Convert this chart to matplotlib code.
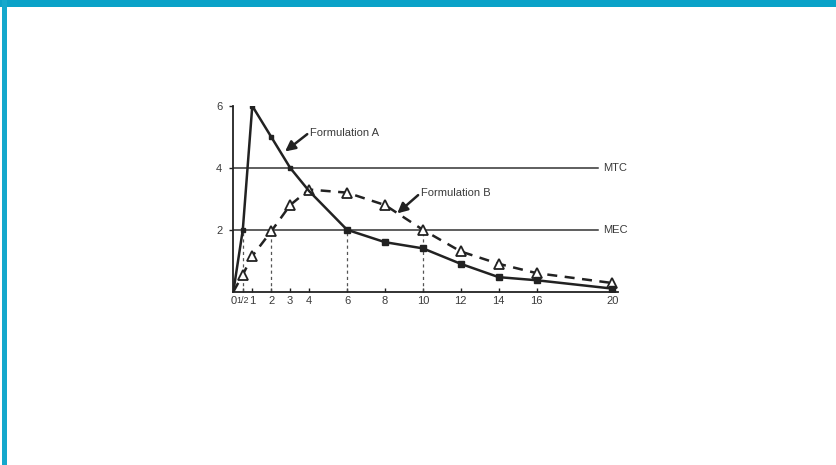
import matplotlib.pyplot as plt
from matplotlib.patches import Rectangle

plt.rcParams['font.family'] = ['Liberation Sans', 'DejaVu Sans']

# Formulation A (solid line)
time_a = [0, 0.5, 1, 2, 3, 4, 6, 8, 10, 12, 14, 16, 20]
conc_a = [0, 2.0, 6.0, 5.0, 4.0, 3.25, 2.0, 1.6, 1.4, 0.9, 0.47, 0.37, 0.1]

# Formulation B (dashed line, open triangles)
time_b = [0, 0.5, 1, 2, 3, 4, 6, 8, 10, 12, 14, 16, 20]
conc_b = [0, 0.55, 1.15, 1.95, 2.8, 3.3, 3.2, 2.8, 2.0, 1.3, 0.9, 0.6, 0.28]

mtc = 4
mec = 2
xtick_pos = [0, 0.5, 1, 2, 3, 4, 6, 8, 10, 12, 14, 16, 20]
xtick_labels = ["0", "1/2", "1", "2", "3", "4", "6", "8", "10", "12", "14", "16", "20"]
ytick_pos = [2, 4, 6]
drop_lines = [(0.5, 2.0), (2, 1.95), (6, 2.0), (10, 2.0)]

ink = "#222222"
txt = "#3a3a3a"

fig = plt.figure(figsize=(8.36, 4.65), dpi=100)
fig.patch.set_facecolor("white")
# blue frame along top and left
fig.patches.append(Rectangle((0, 1 - 7 / 465), 1, 7 / 465, transform=fig.transFigure,
                             facecolor="#0aa2c8", edgecolor="none"))
fig.patches.append(Rectangle((2 / 836, 0), 5 / 836, 1, transform=fig.transFigure,
                             facecolor="#14a8cc", edgecolor="none"))

ax = fig.add_axes([0.2791, 0.3727, 0.4602, 0.3994])
ax.set_xlim(0, 20.3)
ax.set_ylim(0, 6)

ax.axhline(mtc, xmin=0, xmax=19.25 / 20.3, color="#333333", lw=1.1)
ax.axhline(mec, xmin=0, xmax=19.25 / 20.3, color="#333333", lw=1.1)
ax.text(19.5, mtc, "MTC", fontsize=8, color=txt, va="center", ha="left")
ax.text(19.5, mec, "MEC", fontsize=8, color=txt, va="center", ha="left")

for x, y in drop_lines:
    ax.plot([x, x], [0, y], color="#555555", lw=0.9, ls=(0, (2.5, 2.5)))

ax.plot(time_b, conc_b, color=ink, lw=1.8, ls=(0, (4, 3)), zorder=3)
ax.plot(time_b[1:], conc_b[1:], ls="none", marker="^", ms=6.5, mfc="white",
        mec=ink, mew=1.3, zorder=4)

ax.plot(time_a, conc_a, color=ink, lw=1.8, zorder=5)
ax.plot(time_a[1:5], conc_a[1:5], ls="none", marker="s", ms=2.5, color=ink, zorder=6)
ax.plot(time_a[6:], conc_a[6:], ls="none", marker="s", ms=5, color=ink, zorder=6)

arrow = dict(arrowstyle="-|>,head_length=0.6,head_width=0.3", color=ink, lw=1.8,
             shrinkA=0, shrinkB=0)
ax.annotate("", xy=(2.73, 4.53), xytext=(3.9, 5.09), arrowprops=arrow)
ax.text(4.05, 5.13, "Formulation A", fontsize=8, color=txt, va="center", ha="left")
ax.annotate("", xy=(8.65, 2.53), xytext=(9.75, 3.12), arrowprops=arrow)
ax.text(9.9, 3.18, "Formulation B", fontsize=8, color=txt, va="center", ha="left")

for side in ["top", "right"]:
    ax.spines[side].set_visible(False)
for side in ["left", "bottom"]:
    ax.spines[side].set_color(ink)
    ax.spines[side].set_linewidth(1.3)

ax.set_xticks(xtick_pos)
ax.set_xticklabels(xtick_labels)
ax.set_yticks(ytick_pos)
ax.tick_params(axis="x", direction="in", length=3, width=1, colors=ink,
               labelcolor=txt, labelsize=8, pad=3)
ax.tick_params(axis="y", direction="out", length=3, width=1, colors=ink,
               labelcolor=txt, labelsize=8, pad=5)
ax.get_xticklabels()[1].set_fontsize(6.5)

fig.savefig("out.png", dpi=100)
